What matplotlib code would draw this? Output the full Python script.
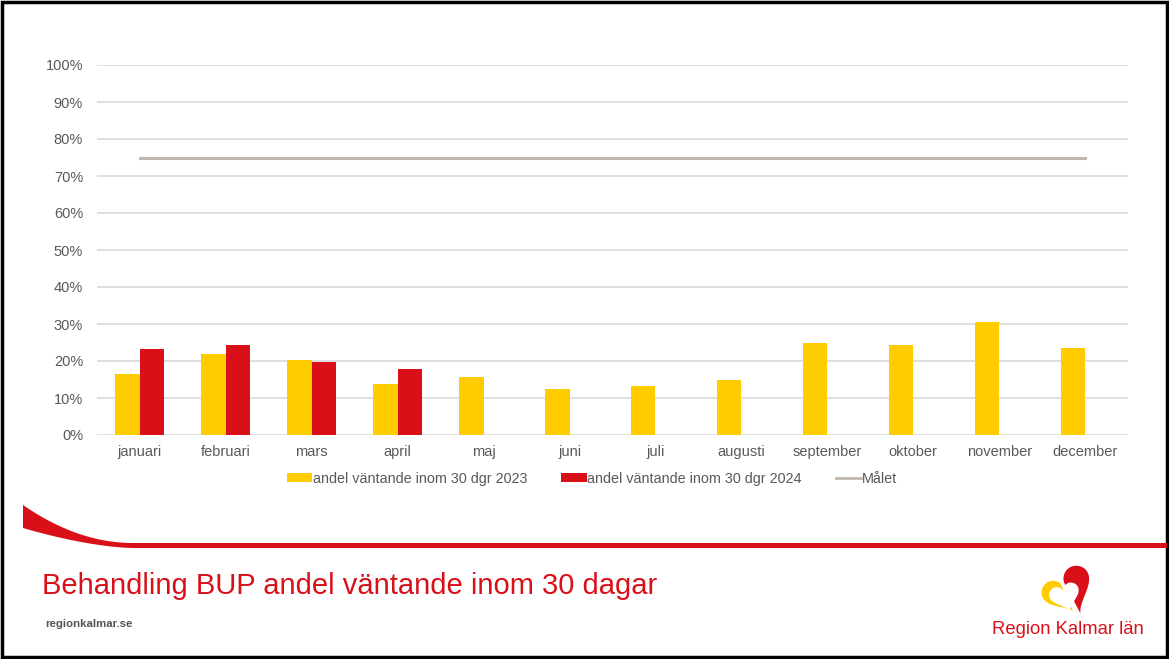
import numpy as np
import matplotlib.pyplot as plt
from matplotlib.patches import Polygon, Rectangle
from matplotlib.lines import Line2D

plt.rcParams['font.family'] = ['Liberation Sans', 'DejaVu Sans']

# data
months = ['januari', 'februari', 'mars', 'april', 'maj', 'juni', 'juli',
          'augusti', 'september', 'oktober', 'november', 'december']
andel_2023 = [16.5, 22.0, 20.3, 13.7, 15.6, 12.4, 13.2, 14.9, 24.9, 24.3, 30.5, 23.5]
andel_2024 = [23.2, 24.3, 19.8, 17.9, np.nan, np.nan, np.nan, np.nan,
              np.nan, np.nan, np.nan, np.nan]
malet = [75] * 12
yticks = list(range(0, 101, 10))

YELLOW = '#ffcc00'
RED = '#da1019'
GOAL = '#bfb8b0'
TXT = '#595959'

W, H = 1169, 659
fig = plt.figure(figsize=(W / 100, H / 100), dpi=100)

# background layer in pixel coordinates for the slide decorations
bg = fig.add_axes([0, 0, 1, 1])
bg.set_xlim(0, W)
bg.set_ylim(H, 0)
bg.axis('off')

# black frame
bg.add_patch(Rectangle((1.5, 2), W - 3.5, H - 4, fill=False, lw=2.5, ec='black'))

# red swoosh
t = np.linspace(0, 1, 60)
xs = 23 + 110 * t
top = 505 + 38 * (1 - (1 - t) ** 2)
bot = 528 + 20 * (1 - (1 - t) ** 1.6)
poly = np.vstack([np.column_stack([xs, top]),
                  [[W - 2, 543], [W - 2, 548]],
                  np.column_stack([xs[::-1], bot[::-1]])])
bg.add_patch(Polygon(poly, closed=True, fc=RED, ec='none'))

bg.text(42, 586, 'Behandling BUP andel väntande inom 30 dagar', color=RED,
        fontsize=21, va='center', ha='left')
bg.text(45, 624, 'regionkalmar.se', color='#555555', fontsize=8.2,
        va='center', ha='left', fontweight='bold')


# logo: heart split into yellow left lobe and red right side, white heart inside
def heart(tt, cx, cy, s, deg):
    a = np.deg2rad(deg)
    hx = 16 * np.sin(tt) ** 3
    hy = 13 * np.cos(tt) - 5 * np.cos(2 * tt) - 2 * np.cos(3 * tt) - np.cos(4 * tt)
    return np.column_stack([cx + s * (hx * np.cos(a) - hy * np.sin(a)),
                            cy - s * (hx * np.sin(a) + hy * np.cos(a))])


bg.add_patch(Polygon(heart(np.linspace(0.1, np.pi + 0.05, 120), 1068, 590, 1.6, 28),
                     fc=RED, ec='none'))
bg.add_patch(Polygon(heart(np.linspace(np.pi + 0.5, 2 * np.pi - 0.35, 120), 1066, 592, 1.45, 28),
                     fc=YELLOW, ec='none'))
bg.add_patch(Polygon(heart(np.linspace(0, 2 * np.pi, 200), 1065, 596, 0.95, 18),
                     fc='white', ec='none'))
bg.text(1068, 630, 'Region Kalmar län', color=RED, fontsize=13.3,
        va='center', ha='center')

# main chart
ax = fig.add_axes([97 / W, 1 - 435 / H, (1128 - 97) / W, 370 / H])
x = np.arange(len(months))
bw = 0.285
ax.bar(x - bw / 2, andel_2023, bw, color=YELLOW, zorder=3,
       label='andel väntande inom 30 dgr 2023')
ax.bar(x + bw / 2, andel_2024, bw, color=RED, zorder=3,
       label='andel väntande inom 30 dgr 2024')
ax.plot(x, malet, color=GOAL, lw=2.2, zorder=4, label='Målet')

ax.set_xlim(-0.5, len(months) - 0.5)
ax.set_ylim(0, 100)
ax.set_yticks(yticks)
ax.set_yticklabels([f'{v}%' for v in yticks])
ax.set_xticks(x)
ax.set_xticklabels(months)
ax.tick_params(length=0, colors=TXT, labelsize=10.5)
ax.tick_params(axis='y', pad=10)
ax.tick_params(axis='x', pad=7)
ax.grid(axis='y', color='#d9d9d9', lw=1.2, zorder=0)
for s in ax.spines.values():
    s.set_visible(False)

handles = [Rectangle((0, 0), 1, 1, fc=YELLOW), Rectangle((0, 0), 1, 1, fc=RED),
           Line2D([], [], color=GOAL, lw=2)]
labels = ['andel väntande inom 30 dgr 2023', 'andel väntande inom 30 dgr 2024', 'Målet']
fig.legend(handles, labels, loc='center', bbox_to_anchor=(592 / W, 1 - 479 / H),
           ncol=3, frameon=False, fontsize=10.4, labelcolor=TXT,
           handlelength=1.75, handleheight=0.6, handletextpad=0.05, columnspacing=2.35)

fig.savefig('out.png', dpi=100)
